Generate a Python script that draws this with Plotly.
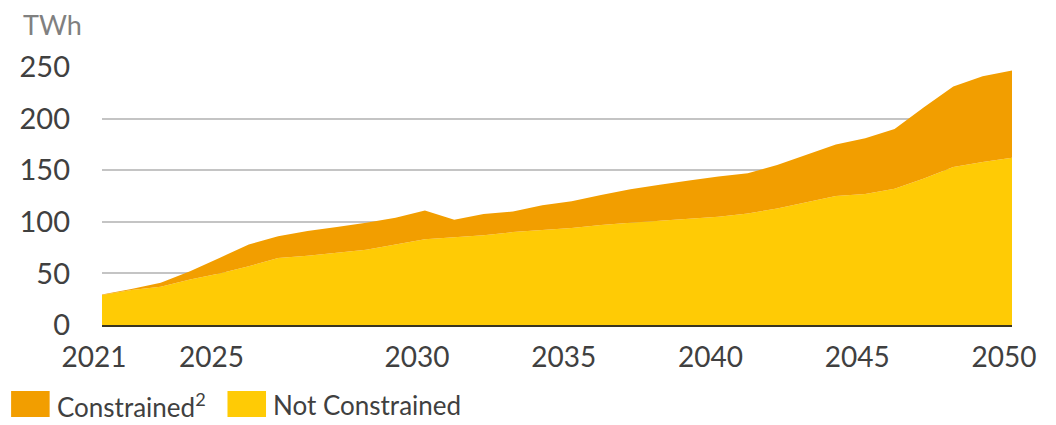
import plotly.graph_objects as go

# Period index (32 points on a category-like axis) and labelled ticks
period_index = list(range(32))
tick_index = [0, 4, 11, 16, 21, 26, 31]
tick_labels = ["2021", "2025", "2030", "2035", "2040", "2045", "2050"]

# Values (TWh)
not_constrained = [29, 34, 37, 44, 50, 57, 65, 67, 70, 73, 78, 83, 85, 87, 90, 92,
                   94, 97, 99, 101, 103, 105, 108, 113, 119, 125, 127, 132, 142, 153, 158, 162]
total = [29.5, 35, 41, 52, 65, 78, 86, 91, 95, 99, 104, 111, 102, 107.5, 110, 116,
         120, 126, 131.5, 136, 140, 144, 147, 155, 165, 175, 181, 190, 211, 231, 241, 246.5]
constrained = [round(t - n, 1) for t, n in zip(total, not_constrained)]

ORANGE = "#F29E00"
YELLOW = "#FFCB05"

# Page body adds an 8px margin on each side; work in page pixels and convert
OFF = 8
W, H = 1056 - 2 * OFF, 425 - 2 * OFF
PL, PR, PT, PB = 97 - OFF, 1018 - OFF, 67 - OFF, 325 - OFF   # plot box in figure px
PW, PH = PR - PL, PB - PT

def px(xp):  # page x -> paper
    return (xp - OFF - PL) / PW

def py(yp):  # page y -> paper
    return (PB - (yp - OFF)) / PH

fig = go.Figure()
fig.add_trace(go.Scatter(x=period_index, y=not_constrained, name="Not Constrained",
                         stackgroup="one", mode="none", fillcolor=YELLOW))
fig.add_trace(go.Scatter(x=period_index, y=constrained, name="Constrained",
                         stackgroup="one", mode="none", fillcolor=ORANGE))

font_family = "Lato, 'Open Sans', sans-serif"

fig.update_layout(
    width=W, height=H,
    margin=dict(l=PL, r=W - PR, t=PT, b=H - PB, pad=0),
    paper_bgcolor="white", plot_bgcolor="white",
    showlegend=False,
    font=dict(family=font_family, size=29, color="#404040"),
    xaxis=dict(range=[0, 31], tickmode="array", tickvals=tick_index, ticktext=tick_labels,
               showgrid=False, zeroline=False, showline=True, linecolor="#3a3520", linewidth=2,
               ticks="", ticklabelstandoff=6, ticklabelshift=-8,
               tickfont=dict(size=28, color="#404040")),
    yaxis=dict(range=[0, 250], tickmode="array", tickvals=[0, 50, 100, 150, 200, 250],
               showgrid=True, gridcolor="#c4c4c4", gridwidth=1.5, zeroline=False,
               showline=False, ticks="", ticklabelstandoff=31,
               tickfont=dict(size=29, color="#404040")),
)

# Unit label
fig.add_annotation(text="TWh", xref="paper", yref="paper", x=px(15), y=py(25),
                   xanchor="left", yanchor="middle", showarrow=False,
                   font=dict(family=font_family, size=27, color="#808080"))

# Manual legend
legend_items = [("Constrained<sup>2</sup>", ORANGE, 5, 49), ("Not Constrained", YELLOW, 224, 268)]
for label, color, sx, tx in legend_items:
    fig.add_shape(type="rect", xref="paper", yref="paper",
                  x0=px(sx), x1=px(sx + 39),
                  y0=py(417), y1=py(391),
                  fillcolor=color, line=dict(width=0))
    fig.add_annotation(text=label, xref="paper", yref="paper",
                       x=px(tx), y=py(405),
                       xanchor="left", yanchor="middle", showarrow=False,
                       font=dict(family=font_family, size=26, color="#404040"))

fig.write_html("out.html")
